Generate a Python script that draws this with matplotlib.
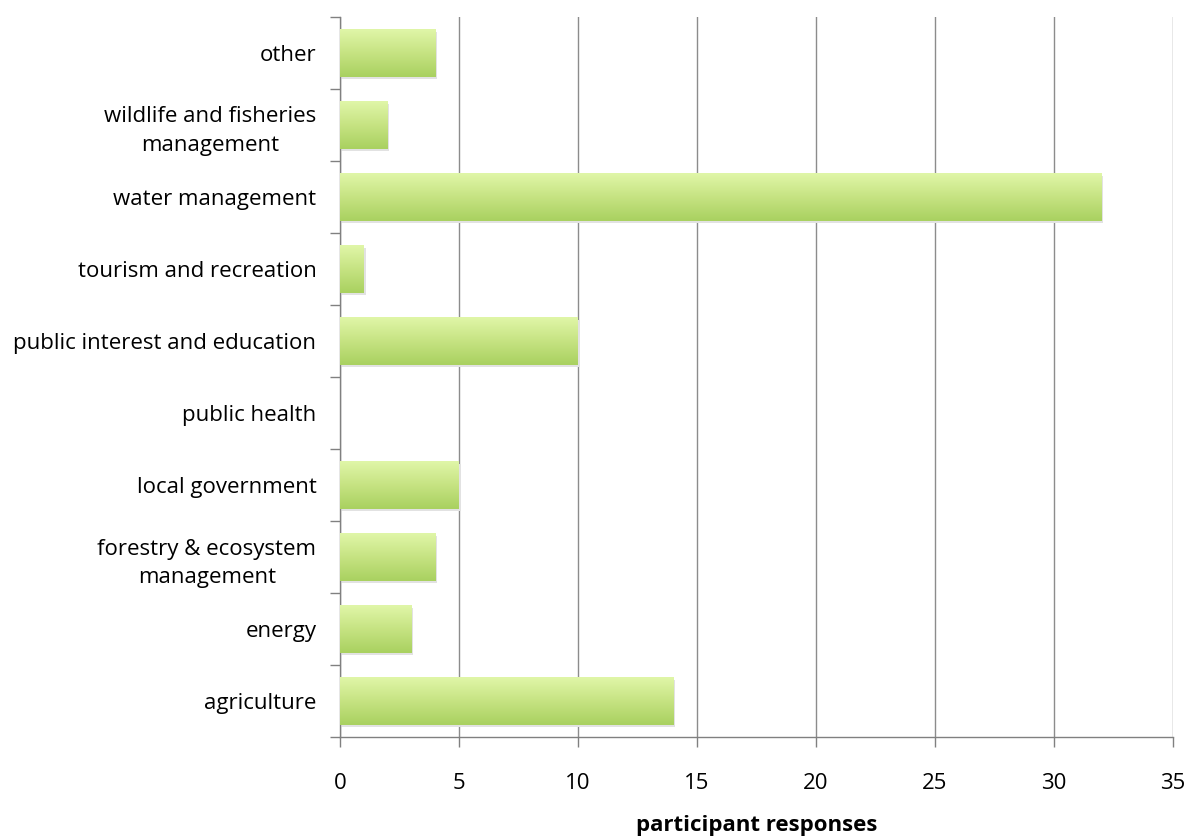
import matplotlib
matplotlib.use("Agg")
import matplotlib.pyplot as plt
import numpy as np
from matplotlib.colors import LinearSegmentedColormap

categories = ["agriculture", "energy", "forestry & ecosystem\nmanagement", "local government",
              "public health", "public interest and education", "tourism and recreation",
              "water management", "wildlife and fisheries\nmanagement", "other"]
values = [14, 3, 4, 5, 0, 10, 1, 32, 2, 4]
xticks = [0, 5, 10, 15, 20, 25, 30, 35]

plt.rcParams['font.family'] = ['Open Sans', 'DejaVu Sans']

fig = plt.figure(figsize=(11.94, 8.36), dpi=100)
ax = fig.add_axes([0.2848, 0.1184, 0.9824 - 0.2848, 0.9797 - 0.1184])

cmap = LinearSegmentedColormap.from_list("g", ["#a9d160", "#c6e382", "#e0f6a8"])
grad = np.linspace(0, 1, 100).reshape(-1, 1)
h = 0.66
for i, v in enumerate(values):
    if v <= 0:
        continue
    # soft shadow
    ax.add_patch(plt.Rectangle((0, i - h / 2 - 0.035), v + 0.07, h, color="#e2e2e2", zorder=2, lw=0))
    ax.imshow(grad, cmap=cmap, aspect="auto", origin="lower",
              extent=(0, v, i - h / 2, i + h / 2), zorder=3, interpolation="bilinear")

ax.set_xlim(0, 35)
ax.set_ylim(-0.5, len(categories) - 0.5)
ax.set_xticks(xticks)
ax.set_xticklabels([str(t) for t in xticks], fontsize=16)
ax.set_yticks(range(len(categories)))
ax.set_yticklabels(categories, fontsize=16, ha="right", multialignment="center", linespacing=1.45)
ax.tick_params(axis="y", length=0, pad=17)
ax.set_yticks(np.arange(-0.5, len(categories), 1), minor=True)
ax.tick_params(axis="y", which="minor", length=7, color="#808080", width=1)
ax.tick_params(axis="x", length=7, color="#808080", width=1, pad=19, direction="out")
ax.xaxis.grid(True, color="#8c8c8c", lw=1)
ax.set_axisbelow(True)
for s in ["top", "right"]:
    ax.spines[s].set_visible(False)
for s in ["left", "bottom"]:
    ax.spines[s].set_color("#808080")
    ax.spines[s].set_linewidth(1)
ax.set_xlabel("participant responses", fontsize=16, fontweight="bold", labelpad=15)

fig.savefig("out.png", dpi=100)
